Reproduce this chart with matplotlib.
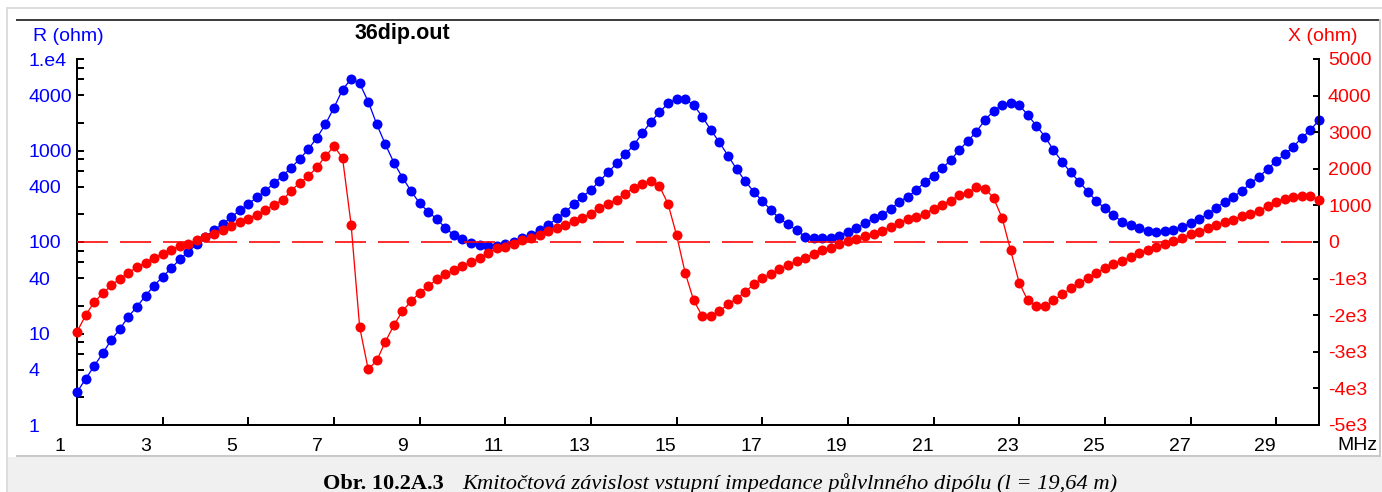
import numpy as np
import matplotlib
matplotlib.use('Agg')
import matplotlib.pyplot as plt
from matplotlib.ticker import FixedLocator, NullLocator, FixedFormatter
from matplotlib.patches import Rectangle
from matplotlib.lines import Line2D
from matplotlib.transforms import ScaledTranslation

# ---------------- data ----------------
freq_start, freq_stop, n_points = 1.0, 30.0, 146      # MHz sweep, 0.2 MHz step
freq_mhz = np.linspace(freq_start, freq_stop, n_points)

resistance_ohm = [
    2.28, 3.18, 4.41, 6.07, 8.49, 11.2, 15.3, 19.6, 25.9, 33.3,          # 1.0 - 2.8
    41.8, 51.6, 64.7, 78.4, 95, 114, 135, 158, 186, 222,                 # 3.0 - 4.8
    260, 308, 364, 438, 530, 649, 807, 1030, 1380, 1932,                 # 5.0 - 6.8
    2937, 4620, 6040, 5420, 3418, 1932, 1168, 736, 505, 361,             # 7.0 - 8.8
    265, 214, 178, 143, 119, 107, 96.8, 92.7, 91, 91.5,                  # 9.0 - 10.8
    94.3, 99.2, 110, 119, 135, 153, 181, 214, 258, 313,                  # 11.0 - 12.8
    370, 464, 577, 724, 908, 1148, 1541, 2065, 2612, 3280,               # 13.0 - 14.8
    3630, 3630, 3142, 2342, 1675, 1228, 878, 628, 464, 355,              # 15.0 - 16.8
    281, 224, 181, 156, 135, 114, 110, 110, 111, 116,                    # 17.0 - 18.8
    130, 141, 160, 181, 197, 230, 276, 313, 370, 456,                    # 19.0 - 20.8
    531, 638, 787, 1012, 1270, 1606, 2154, 2703, 3142, 3280,             # 21.0 - 22.8
    3142, 2443, 1867, 1416, 1012, 755, 577, 456, 355, 281,               # 23.0 - 24.8
    233, 197, 167, 153, 141, 133, 128, 133, 135, 147,                    # 25.0 - 26.8
    160, 178, 201, 237, 276, 313, 361, 438, 517, 628,                    # 27.0 - 28.8
    767, 908, 1101, 1380, 1675, 2154,                                    # 29.0 - 30.0
]

reactance_ohm = [
    -2452, -2007, -1643, -1406, -1188, -1005, -841, -688, -568, -431,    # 1.0 - 2.8
    -322, -205, -115, -49, 41, 131, 224, 341, 450, 551,                  # 3.0 - 4.8
    642, 751, 868, 1024, 1141, 1406, 1616, 1796, 2042, 2342,             # 5.0 - 6.8
    2615, 2298, 478, -2326, -3481, -3235, -2725, -2271, -1889, -1616,    # 7.0 - 8.8
    -1387, -1207, -1024, -887, -778, -661, -541, -450, -314, -170,       # 9.0 - 10.8
    -142, -68, 49, 115, 186, 295, 388, 478, 568, 661,                    # 11.0 - 12.8
    770, 934, 1043, 1160, 1316, 1480, 1589, 1660, 1523, 1043,            # 13.0 - 14.8
    186, -841, -1597, -2025, -2025, -1889, -1706, -1551, -1360, -1160,   # 15.0 - 16.8
    -996, -887, -751, -633, -524, -431, -322, -232, -158, -68,           # 17.0 - 18.8
    22, 87, 158, 205, 314, 404, 524, 620, 677, 770,                      # 19.0 - 20.8
    915, 1024, 1133, 1278, 1343, 1496, 1461, 1207, 661, -232,            # 21.0 - 22.8
    -1114, -1597, -1753, -1753, -1597, -1433, -1269, -1114, -996, -841,  # 23.0 - 24.8
    -704, -595, -520, -415, -314, -205, -142, -49, 22, 115,              # 25.0 - 26.8
    205, 278, 369, 459, 551, 614, 704, 778, 860, 977,                    # 27.0 - 28.8
    1097, 1188, 1223, 1250, 1250, 1160,                                  # 29.0 - 30.0
]

x_tick_values = [1, 3, 5, 7, 9, 11, 13, 15, 17, 19, 21, 23, 25, 27, 29]
x_tick_labels = [str(v) for v in x_tick_values]

r_tick_values = [1, 2, 4, 6, 8, 10, 20, 40, 60, 80, 100, 200, 400, 600, 800,
                 1000, 2000, 4000, 6000, 8000, 10000]
r_labelled = {1: '1', 4: '4', 10: '10', 40: '40', 100: '100', 400: '400',
              1000: '1000', 4000: '4000', 10000: '1.e4'}
r_tick_labels = [r_labelled.get(v, '') for v in r_tick_values]

x_react_ticks = [-5000, -4000, -3000, -2000, -1000, 0, 1000, 2000, 3000, 4000, 5000]
x_react_labels = ['-5e3', '-4e3', '-3e3', '-2e3', '-1e3', '0',
                  '1000', '2000', '3000', '4000', '5000']

title_text = '36dip.out'
r_axis_title = 'R (ohm)'
x_axis_title = 'X (ohm)'
unit_text = 'MHz'
caption_bold = 'Obr. 10.2A.3'
caption_italic = 'Kmitočtová závislost vstupní impedance půlvlnného dipólu (l = 19,64 m)'

# ---------------- figure ----------------
W, H = 1382, 492
DPI = 100
plt.rcParams['font.family'] = ['Liberation Sans', 'DejaVu Sans']
fig = plt.figure(figsize=(W / DPI, H / DPI), dpi=DPI)
fig.patch.set_facecolor('white')

def fx(px):
    return px / W

def fy(py):
    return 1 - py / H

def pt(px):
    return px * 72.0 / DPI

BLUE = '#0000ff'
RED = '#ff0000'
TICKFS = 14

# decorations of the surrounding page
fig.add_artist(Rectangle((fx(7), fy(492)), fx(1382) - fx(7), fy(457) - fy(492),
                         transform=fig.transFigure, facecolor='#f0f0f0',
                         edgecolor='none', zorder=0))
fig.add_artist(Line2D([fx(7), fx(7)], [fy(8), fy(492)], transform=fig.transFigure,
                      color='#dcdcdc', lw=pt(2)))
fig.add_artist(Line2D([fx(7), fx(1382)], [fy(8), fy(8)], transform=fig.transFigure,
                      color='#dcdcdc', lw=pt(2)))
fig.add_artist(Line2D([fx(17), fx(1380)], [fy(20), fy(20)], transform=fig.transFigure,
                      color='#404040', lw=pt(2)))
fig.add_artist(Line2D([fx(17), fx(1380)], [fy(456), fy(456)], transform=fig.transFigure,
                      color='#c8c8c8', lw=pt(2)))
fig.add_artist(Line2D([fx(1380), fx(1380)], [fy(20), fy(456)], transform=fig.transFigure,
                      color='#c8c8c8', lw=pt(2)))

# ---------------- axes ----------------
L, R, T, B = 77, 1319, 59, 425
ax = fig.add_axes([fx(L), fy(B), fx(R) - fx(L), fy(T) - fy(B)])
ax.set_facecolor('none')
ax.set_xlim(freq_start, freq_stop)
ax.set_yscale('log')
ax.set_ylim(1, 10000)

ax2 = ax.twinx()
ax2.set_ylim(-5000, 5000)

for a in (ax, ax2):
    for s in a.spines.values():
        s.set_linewidth(pt(2))
        s.set_color('black')
    a.spines['top'].set_visible(False)
ax.spines['right'].set_visible(False)
ax2.spines['left'].set_visible(False)
ax2.spines['bottom'].set_visible(False)

# x ticks
ax.xaxis.set_major_locator(FixedLocator(x_tick_values))
ax.xaxis.set_major_formatter(FixedFormatter(x_tick_labels))
ax.xaxis.set_minor_locator(NullLocator())
ax.tick_params(axis='x', direction='in', length=pt(8), width=pt(2),
               labelsize=TICKFS, pad=pt(13), colors='black')

# left log ticks
ax.yaxis.set_major_locator(FixedLocator(r_tick_values))
ax.yaxis.set_major_formatter(FixedFormatter(r_tick_labels))
ax.yaxis.set_minor_locator(NullLocator())
ax.tick_params(axis='y', direction='in', length=pt(7), width=pt(2),
               labelsize=TICKFS, pad=pt(L - 29), labelcolor=BLUE, color='black')

# right ticks
ax2.yaxis.set_major_locator(FixedLocator(x_react_ticks))
ax2.yaxis.set_major_formatter(FixedFormatter(x_react_labels))
ax2.yaxis.set_minor_locator(NullLocator())
ax2.tick_params(axis='y', direction='in', length=pt(6), width=pt(2),
                labelsize=TICKFS, pad=pt(9), labelcolor=RED, color='black')

fig.canvas.draw()
for lab in ax.get_yticklabels():
    lab.set_horizontalalignment('left')
shift = ScaledTranslation(-22 / DPI, 0, fig.dpi_scale_trans)
for lab in ax.get_xticklabels():
    lab.set_horizontalalignment('left')
    lab.set_transform(lab.get_transform() + shift)

# ---------------- data series ----------------
ax.plot(freq_mhz, resistance_ohm, color=BLUE, lw=pt(1.3), marker='o',
        markersize=pt(10), markeredgewidth=0, clip_on=False, zorder=3)
ax2.axhline(0, color=RED, lw=pt(1.6), linestyle=(0, (pt(31) / pt(1.6), pt(12) / pt(1.6))),
            zorder=2)
ax2.plot(freq_mhz, reactance_ohm, color=RED, lw=pt(1.3), marker='o',
         markersize=pt(10), markeredgewidth=0, clip_on=False, zorder=3)

# ---------------- texts ----------------
fig.text(fx(33), fy(36.5), r_axis_title, color=BLUE, fontsize=TICKFS,
         ha='left', va='center')
fig.text(fx(1288), fy(36.5), x_axis_title, color=RED, fontsize=TICKFS,
         ha='left', va='center')
fig.text(fx(355), fy(34), title_text, color='black', fontsize=15.5,
         fontweight='bold', ha='left', va='center')
fig.text(fx(1337), fy(445), unit_text, color='black', fontsize=TICKFS,
         ha='left', va='center')

fig.text(fx(323), fy(489), caption_bold, family=['Liberation Serif', 'DejaVu Serif'],
         fontweight='bold', fontsize=16, ha='left', va='baseline', color='black')
fig.text(fx(462), fy(489), caption_italic, family=['Liberation Serif', 'DejaVu Serif'],
         fontstyle='italic', fontsize=16.2, ha='left', va='baseline', color='black')

fig.savefig('out.png', dpi=DPI)
